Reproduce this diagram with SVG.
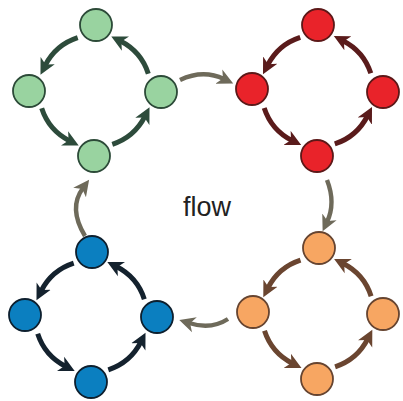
<svg xmlns="http://www.w3.org/2000/svg" width="403" height="401" viewBox="0 0 403 401">
  <defs>
    <style>
      .node { stroke-width: 1.8; }
      .g-node { fill: #99d3a0; stroke: #2c4a38; }
      .r-node { fill: #e9232a; stroke: #5c1818; }
      .b-node { fill: #0b7fc0; stroke: #0d1f2e; }
      .o-node { fill: #f7a662; stroke: #664430; }
      .arc { fill: none; stroke-width: 5; stroke-linecap: butt; }
      .g-arc { stroke: #2d4b3b; marker-end: url(#head-g); }
      .r-arc { stroke: #5a1b1b; marker-end: url(#head-r); }
      .b-arc { stroke: #14222e; marker-end: url(#head-b); }
      .o-arc { stroke: #6a4530; marker-end: url(#head-o); }
      .link { fill: none; stroke: #6e6a5a; stroke-width: 4.4; marker-end: url(#head-link); }
      .label { font-family: "Liberation Sans", Arial, sans-serif; font-size: 27px; fill: #222; }
    </style>
    <!-- barbed arrowheads, tip 9px past the path end -->
    <marker id="head-g" markerUnits="userSpaceOnUse" markerWidth="17" markerHeight="17" viewBox="0 -7.5 15 15" refX="5" refY="0" orient="auto">
      <path d="M0,-7 L14,0 L0,7 L4,0 Z" fill="#2d4b3b"/>
    </marker>
    <marker id="head-r" markerUnits="userSpaceOnUse" markerWidth="17" markerHeight="17" viewBox="0 -7.5 15 15" refX="5" refY="0" orient="auto">
      <path d="M0,-7 L14,0 L0,7 L4,0 Z" fill="#5a1b1b"/>
    </marker>
    <marker id="head-b" markerUnits="userSpaceOnUse" markerWidth="17" markerHeight="17" viewBox="0 -7.5 15 15" refX="5" refY="0" orient="auto">
      <path d="M0,-7 L14,0 L0,7 L4,0 Z" fill="#14222e"/>
    </marker>
    <marker id="head-o" markerUnits="userSpaceOnUse" markerWidth="17" markerHeight="17" viewBox="0 -7.5 15 15" refX="5" refY="0" orient="auto">
      <path d="M0,-7 L14,0 L0,7 L4,0 Z" fill="#6a4530"/>
    </marker>
    <marker id="head-link" markerUnits="userSpaceOnUse" markerWidth="17" markerHeight="17" viewBox="0 -7.5 15 15" refX="5" refY="0" orient="auto">
      <path d="M0,-7 L14,0 L0,7 L4,0 Z" fill="#6e6a5a"/>
    </marker>
  </defs>

  <rect width="403" height="401" fill="#ffffff"/>

  <!-- connectors -->
  <g id="connectors">
    <!-- green ring -->
    <path class="arc g-arc" d="M77.7,37.7 A56 56 0 0 0 45.1,65.6"/>
    <path class="arc g-arc" d="M41.7,108.3 A56 56 0 0 0 69.6,140.9"/>
    <path class="arc g-arc" d="M112.3,144.3 A56 56 0 0 0 144.9,116.4"/>
    <path class="arc g-arc" d="M148.3,73.7 A56 56 0 0 0 120.4,41.1"/>
    <!-- red ring -->
    <path class="arc r-arc" d="M300.2,37.3 A56 56 0 0 0 267.6,65.2"/>
    <path class="arc r-arc" d="M264.2,107.9 A56 56 0 0 0 292.1,140.5"/>
    <path class="arc r-arc" d="M334.8,143.9 A56 56 0 0 0 367.4,116.0"/>
    <path class="arc r-arc" d="M370.8,73.3 A56 56 0 0 0 342.9,40.7"/>
    <!-- blue ring -->
    <path class="arc b-arc" d="M73.7,263.2 A56 56 0 0 0 41.1,291.1"/>
    <path class="arc b-arc" d="M37.7,333.8 A56 56 0 0 0 65.6,366.4"/>
    <path class="arc b-arc" d="M108.3,369.8 A56 56 0 0 0 140.9,341.9"/>
    <path class="arc b-arc" d="M144.3,299.2 A56 56 0 0 0 116.4,266.6"/>
    <!-- orange ring -->
    <path class="arc o-arc" d="M300.5,260.2 A56 56 0 0 0 267.9,288.1"/>
    <path class="arc o-arc" d="M264.5,330.8 A56 56 0 0 0 292.4,363.4"/>
    <path class="arc o-arc" d="M335.1,366.8 A56 56 0 0 0 367.7,338.9"/>
    <path class="arc o-arc" d="M371.1,296.2 A56 56 0 0 0 343.2,263.6"/>
    <!-- links between rings -->
    <path class="link" d="M180,80 Q203,69 224,79"/>
    <path class="link" d="M327,180 Q336,203 327,222"/>
    <path class="link" d="M228,319 Q211,330 189,323"/>
    <path class="link" d="M85,236 Q68,208 83,188"/>
  </g>

  <!-- green ring nodes -->
  <g id="g-top"><circle class="node g-node" cx="96" cy="25" r="16"/></g>
  <g id="g-left"><circle class="node g-node" cx="29" cy="91" r="16"/></g>
  <g id="g-right"><circle class="node g-node" cx="161" cy="92" r="16"/></g>
  <g id="g-bottom"><circle class="node g-node" cx="94" cy="156" r="16"/></g>

  <!-- red ring nodes -->
  <g id="r-top"><circle class="node r-node" cx="318" cy="25" r="16"/></g>
  <g id="r-left"><circle class="node r-node" cx="252" cy="89" r="16"/></g>
  <g id="r-right"><circle class="node r-node" cx="383" cy="92" r="16"/></g>
  <g id="r-bottom"><circle class="node r-node" cx="317" cy="156" r="16"/></g>

  <!-- blue ring nodes -->
  <g id="b-top"><circle class="node b-node" cx="92" cy="252" r="16"/></g>
  <g id="b-left"><circle class="node b-node" cx="25" cy="315" r="16"/></g>
  <g id="b-right"><circle class="node b-node" cx="157" cy="317" r="16"/></g>
  <g id="b-bottom"><circle class="node b-node" cx="91" cy="382" r="16"/></g>

  <!-- orange ring nodes -->
  <g id="o-top"><circle class="node o-node" cx="319" cy="248" r="16"/></g>
  <g id="o-left"><circle class="node o-node" cx="253" cy="312" r="16"/></g>
  <g id="o-right"><circle class="node o-node" cx="383" cy="314" r="16"/></g>
  <g id="o-bottom"><circle class="node o-node" cx="317" cy="379" r="16"/></g>

  <g id="title"><text class="label" x="183" y="216">flow</text></g>
</svg>
